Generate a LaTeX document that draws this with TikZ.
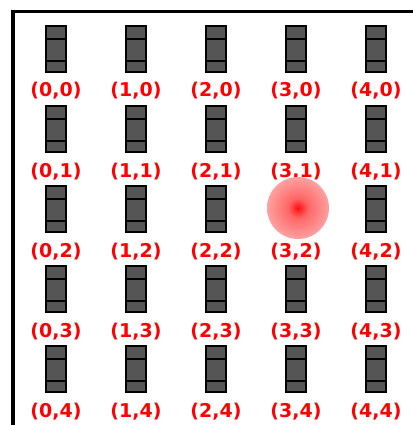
\documentclass[tikz,border=0pt]{standalone}
\usepackage{fontspec}
\setmainfont{DejaVu Sans}
\usetikzlibrary{shadings}

\definecolor{slotgray}{RGB}{85,85,85}
\pgfdeclareradialshading{glow}{\pgfpoint{0cm}{0cm}}{%
  color(0bp)=(red!95!white);
  color(8bp)=(red!60!white);
  color(28bp)=(red!33!white);
  color(50bp)=(red!22!white)}

\begin{document}
\begin{tikzpicture}[x=1pt,y=-1pt,
    slot/.style={draw=black, fill=slotgray, line width=1.2pt,
      minimum width=20pt, minimum height=46pt, inner sep=0pt,
      path picture={
        \draw[line width=1.2pt]
          ([yshift=-13pt]path picture bounding box.north west) --
          ([yshift=-13pt]path picture bounding box.north east);
        \draw[line width=1.2pt]
          ([yshift=11pt]path picture bounding box.south west) --
          ([yshift=11pt]path picture bounding box.south east);}},
    coord/.style={text=red, font=\fontsize{19}{20}\selectfont\bfseries,
      anchor=base, inner sep=0pt}]
   \useasboundingbox (0,0) rectangle (412,425);
   \fill[white] (0,0) rectangle (412,425);

   % outer frame, open to the right and bottom
   \draw[line width=3.5pt] (13,430) -- (13,11.5) -- (420,11.5);

   % grid of slots with their coordinates
   \foreach \col in {0,...,4}{
     \foreach \row in {0,...,4}{
       \node[slot] (s-\col-\row) at (56+80*\col, 49+80*\row) {};
       \node[coord] (l-\col-\row) at (56+80*\col, 97+80*\row) {(\col,\row)};
     }
   }

   % marker over slot (3,2)
   \shade[shading=glow] (298,208) circle[radius=31];
 \end{tikzpicture}
\end{document}
